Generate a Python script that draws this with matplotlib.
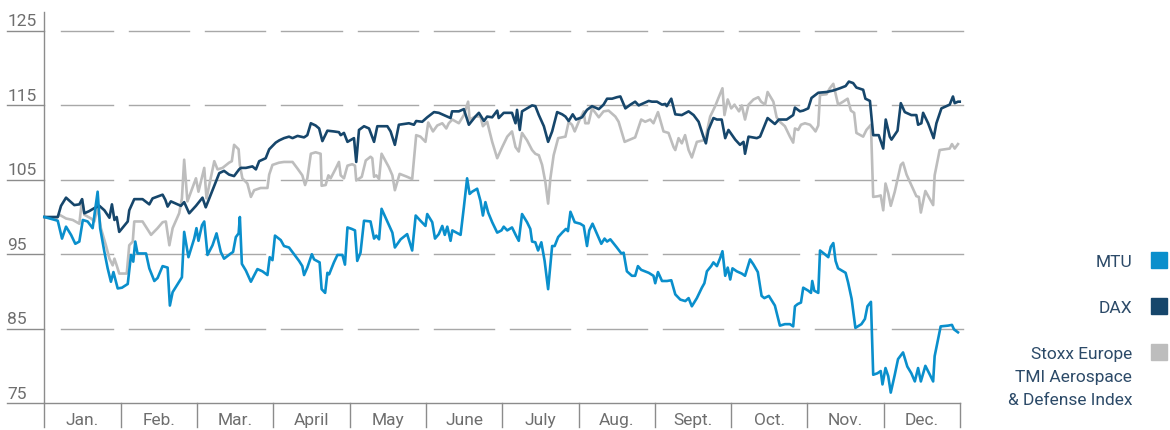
import numpy as np
import matplotlib
matplotlib.use("Agg")
import matplotlib.pyplot as plt
from matplotlib.patches import Rectangle

plt.rcParams['font.family'] = ['Roboto', 'DejaVu Sans']

# x = day of the year (0..365), y = indexed value (start = 100)
mtu_days = [0, 5.3, 7.0, 8.6, 10.6, 12.3, 13.9, 15.3, 17.2, 19.2, 21.2, 22.2, 23.9, 25.2, 26.5, 27.5, 29.2, 30.9,
            33.2, 34.5, 35.4, 36.2, 37.1, 40.5, 41.8, 43.8, 45.1, 47.1, 49.1, 50.0, 51.1, 53.7, 54.8, 55.7, 57.4,
            59.7, 60.6, 61.4, 62.8, 63.7, 65.0, 67.0, 68.6, 70.3, 71.6, 74.3, 75.2, 76.3, 77.4, 77.9, 78.7, 80.3,
            82.3, 84.9, 86.9, 88.9, 89.8, 90.9, 91.9, 94.2,
            95.5, 97.5, 99.5, 101.5, 102.8, 103.5, 104.8, 106.6, 107.5, 109.7, 110.5, 111.9, 112.8, 113.5, 115.4,
            116.8, 118.8, 119.8, 120.8, 122.5, 123.8, 124.7, 126.0, 127.4, 130.0, 131.4, 132.3, 133.4, 134.4, 136.3,
            138.7, 139.7, 142.0, 144.6, 146.6, 148.0, 149.9, 151.9, 152.6, 154.6, 155.7, 157.2, 158.6, 159.6, 160.6,
            161.9, 162.6, 165.9, 167.2, 168.5, 169.5, 170.5, 172.5, 173.8, 174.8, 175.8, 176.9, 178.5, 180.5, 182.2,
            183.1, 184.5, 186.4, 188.0,
            189.1, 190.4, 192.4, 193.7, 194.4, 195.7, 196.8, 198.1, 199.4, 200.8, 202.4, 203.4, 204.8, 206.4, 207.9,
            208.7, 209.7, 211.4, 213.6, 215.0, 216.3, 217.2, 218.5, 220.3, 222.0, 223.3, 224.3, 225.6, 228.2, 230.0,
            230.9, 232.2, 234.2, 235.5, 236.6, 237.9, 240.9, 242.8, 243.5, 244.6, 246.2, 248.2, 249.9, 251.5, 253.5,
            255.5, 256.8, 258.1, 260.1, 262.1, 263.1, 264.1, 265.8, 266.7, 268.1, 269.4, 270.3, 271.4, 272.4, 273.4,
            274.3, 276.0, 278.0, 279.3, 281.3, 282.7, 284.4,
            285.9, 287.0, 288.8, 291.2, 293.2, 295.2, 297.2, 298.5, 299.2, 300.3, 301.6, 302.5, 304.5, 305.6, 306.1,
            306.9, 308.5, 309.2, 311.1, 312.5, 313.5, 314.5, 315.4, 316.4, 319.4, 320.4, 321.8, 323.3, 325.7, 327.1,
            328.1, 329.5, 330.4, 332.1, 333.4, 334.1, 335.3, 336.4, 337.4, 339.0, 340.3, 342.3, 344.0, 345.6, 347.0,
            348.3, 349.4, 351.2, 353.0, 354.3, 354.9, 357.3, 360.2, 361.8, 362.6, 364.2]
mtu_vals = [100.0, 99.5, 97.1, 98.7, 97.6, 96.4, 96.7, 99.6, 99.4, 98.5, 103.4, 98.5, 95.3, 93.1, 91.3, 92.6, 90.4, 90.5,
            91.0, 94.9, 94.0, 96.7, 95.1, 95.1, 93.1, 91.4, 91.8, 93.4, 93.2, 88.1, 89.9, 91.3, 91.9, 98.0, 94.6,
            97.1, 98.5, 96.8, 98.9, 99.4, 94.9, 96.2, 97.8, 95.3, 94.4, 95.1, 95.3, 97.3, 97.8, 100.0, 93.7, 92.8,
            91.3, 93.0, 92.7, 92.2, 94.6, 94.2, 97.5, 96.9,
            96.1, 95.9, 95.0, 94.1, 93.4, 92.2, 93.2, 95.0, 94.3, 93.9, 90.3, 89.8, 92.5, 92.3, 93.9,
            94.9, 94.9, 93.6, 98.6, 98.4, 98.2, 94.1, 95.2, 99.5, 99.4, 97.1, 97.5, 97.0, 101.1, 99.7,
            97.9, 95.9, 97.0, 97.7, 95.5, 100.2, 99.5, 98.8, 100.4, 99.3, 97.1, 97.7, 98.8, 97.6, 98.7,
            96.8, 98.2, 97.6, 101.3, 105.2, 103.1, 103.4, 103.8, 102.2, 100.2, 102.0, 100.6, 99.3, 97.9, 98.2,
            98.7, 98.2, 98.6, 97.5,
            96.8, 100.4, 99.3, 98.4, 96.7, 96.6, 95.5, 96.6, 94.1, 90.3, 96.1, 96.1, 97.3, 97.9, 98.4,
            98.1, 100.7, 99.3, 99.1, 98.8, 96.1, 98.2, 99.1, 97.7, 96.4, 97.1, 96.7, 97.0, 95.9, 95.1,
            95.2, 92.7, 92.1, 92.1, 93.4, 92.9, 92.5, 92.1, 91.1, 92.6, 91.4, 91.4, 91.5, 89.6, 88.9,
            88.7, 89.1, 88.0, 89.1, 90.5, 91.1, 92.7, 93.4, 93.9, 93.4, 94.5, 95.4, 92.1, 93.2, 91.6,
            93.1, 92.7, 92.4, 92.1, 94.3, 93.6, 92.6,
            89.4, 89.1, 89.4, 88.1, 85.4, 85.6, 85.6, 85.3, 88.0, 88.3, 88.5, 90.5, 90.1, 89.8, 91.4,
            90.1, 89.8, 95.5, 95.0, 94.6, 96.0, 96.5, 94.1, 93.1, 92.5, 91.2, 89.0, 85.1, 85.6, 86.3,
            88.0, 88.6, 78.8, 79.0, 79.3, 77.5, 79.7, 78.6, 76.4, 78.8, 80.9, 81.8, 79.9, 79.0, 77.9,
            79.7, 77.9, 80.0, 78.8, 77.9, 81.3, 85.3, 85.4, 85.5, 84.9, 84.5]

dax_days = [0, 5.3, 6.6, 8.6, 11.9, 13.9, 15.0, 15.9, 17.9, 19.9, 21.9, 23.9, 25.9, 26.9, 27.9, 28.8, 29.8, 33.2,
            33.8, 35.8, 39.1, 41.8, 43.1, 47.1, 48.2, 49.1, 50.4, 54.4, 55.7, 57.7, 60.4, 63.0, 64.3, 67.0, 69.7,
            71.6, 73.6, 75.6, 77.6, 78.3, 80.3, 82.9, 84.3, 85.6, 88.2, 89.6, 92.2,
            93.6, 95.5, 97.5, 98.9, 100.9, 103.5, 104.8, 106.2, 108.1, 109.5, 110.8, 112.8, 115.4, 117.4, 118.1,
            119.4, 120.8, 123.4, 124.3, 125.4, 127.4, 129.4, 131.4, 132.7, 136.7, 138.0, 139.7, 141.3, 145.3, 147.3,
            148.2, 150.6, 152.6, 155.3, 157.2, 159.9, 161.9, 162.5, 165.2, 167.2, 169.2, 171.8, 173.2, 175.2, 176.5,
            178.5, 180.5, 181.1, 183.1, 186.4, 187.8, 188.4,
            189.5, 190.4, 192.4, 194.4, 195.7, 197.1, 199.1, 200.8, 202.4, 204.4, 206.4, 207.7, 209.0, 210.6, 211.9,
            214.3, 216.3, 218.3, 221.0, 222.9, 224.3, 226.3, 228.2, 229.6, 231.6, 233.6, 235.5, 236.9, 238.9, 240.9,
            242.2, 244.2, 246.2, 247.5, 248.1, 249.9, 251.5, 254.1, 256.8, 258.8, 260.8, 262.7, 263.7, 264.7, 266.7,
            268.1, 270.0, 271.4, 272.7, 275.4, 277.3, 278.7, 279.3, 280.7, 284.0, 285.3, 286.6,
            288.3, 291.2, 292.8, 295.9, 298.5, 299.2, 301.2, 302.5, 304.5, 305.8, 308.5, 311.8, 314.5, 317.1, 319.4,
            320.7, 322.4, 323.7, 326.4, 327.3, 329.1, 330.4, 332.6, 334.4, 335.4, 337.0, 337.7, 340.1, 341.4, 343.0,
            345.6, 347.6, 348.3, 349.6, 350.3, 352.3, 354.5, 355.6, 357.6, 360.9, 362.2, 362.9, 364.2, 364.9]
dax_vals = [100.0, 100.0, 101.5, 102.6, 101.6, 101.7, 102.4, 100.5, 100.8, 101.2, 101.5, 100.9, 99.9, 101.7, 99.6, 100.0, 98.0, 99.4,
            100.9, 102.4, 102.4, 101.7, 102.5, 103.0, 102.3, 101.4, 102.1, 101.5, 102.0, 100.5, 101.5, 102.6, 101.3, 103.6, 105.9,
            106.2, 105.7, 105.5, 106.4, 106.6, 106.6, 106.8, 106.4, 107.5, 107.9, 109.1, 110.0,
            110.3, 110.6, 110.8, 110.6, 110.9, 110.7, 111.0, 112.6, 112.3, 111.9, 110.2, 111.6, 111.5, 111.4, 111.0,
            111.3, 110.1, 110.6, 107.4, 111.7, 112.2, 111.9, 110.1, 112.2, 112.2, 111.5, 109.7, 112.4, 112.6, 112.4,
            112.9, 112.8, 113.4, 114.1, 114.0, 113.6, 113.3, 114.2, 114.2, 114.5, 112.4, 113.5, 114.0, 112.9, 113.5,
            113.4, 114.3, 113.3, 114.0, 114.0, 112.6, 114.4,
            111.7, 114.2, 114.6, 115.0, 114.9, 113.7, 112.2, 110.1, 111.5, 114.1, 113.8, 113.5, 112.9, 113.8, 113.1,
            113.4, 114.4, 114.9, 114.5, 115.1, 115.9, 115.9, 116.1, 116.2, 114.6, 115.1, 115.5, 115.0, 115.3, 115.6,
            115.5, 115.5, 115.1, 115.2, 114.9, 115.9, 113.8, 113.7, 114.2, 113.7, 112.8, 110.8, 109.9, 111.7, 113.3,
            113.1, 113.1, 110.6, 111.7, 110.4, 109.7, 110.1, 108.5, 110.8, 110.6, 110.8, 111.9,
            113.3, 112.5, 113.1, 113.1, 113.7, 114.7, 114.2, 114.3, 114.6, 116.0, 116.7, 116.8, 117.0, 117.3, 117.6,
            118.2, 118.0, 117.4, 117.1, 115.9, 115.6, 111.0, 111.0, 109.2, 113.1, 110.8, 110.4, 111.6, 115.3, 114.1,
            113.7, 113.7, 112.4, 112.6, 114.0, 112.6, 110.6, 112.6, 114.6, 115.1, 116.2, 115.3, 115.5, 115.5]

stoxx_days = [0, 4.6, 6.0, 8.6, 11.3, 13.9, 15.0, 15.9, 18.6, 19.9, 21.2, 22.5, 24.5, 25.9, 27.2, 27.9, 28.8, 29.8,
              32.8, 33.8, 35.2, 35.8, 39.1, 42.5, 45.1, 47.1, 48.4, 49.8, 51.1, 53.7, 54.8, 55.7, 57.0, 59.0, 60.4,
              61.4, 63.7, 64.6, 65.7, 67.7, 69.0, 71.0, 73.6, 74.7, 75.6, 77.4, 77.9, 78.9, 80.9, 82.3, 83.6, 86.2,
              88.9, 89.6, 90.9, 93.5,
              95.5, 98.9, 100.9, 102.8, 103.9, 104.8, 106.2, 108.1, 110.1, 110.5, 112.1, 113.2, 114.1, 116.1, 117.4,
              118.1, 119.4, 120.8, 122.7, 123.8, 124.3, 126.5, 128.1, 130.0, 130.7, 131.4, 132.3, 133.4, 134.4, 137.3,
              138.7, 139.7, 141.6, 144.6, 146.6, 148.2, 149.9, 151.9, 153.0, 154.9, 156.6, 158.6, 160.2, 161.2, 162.6,
              165.2, 167.2, 168.9, 169.5, 171.8, 173.8, 174.8, 176.5, 178.5, 180.5, 182.5, 184.5, 186.4, 187.8,
              189.1, 190.4, 192.4, 194.4, 195.7, 197.1, 198.4, 199.7, 200.8, 201.7, 203.0, 204.8, 207.7, 209.0, 210.3,
              211.4, 213.0, 215.0, 215.6, 216.9, 218.3, 221.0, 222.9, 224.9, 227.6, 228.9, 231.3, 235.5, 237.9, 239.5,
              241.5, 242.8, 244.6, 246.8, 248.8, 250.8, 251.5, 252.8, 254.1, 255.4, 256.8, 258.1, 260.1, 262.7, 263.7,
              265.4, 267.4, 268.7, 270.3, 271.1, 272.4, 273.8, 275.1, 276.9, 278.0, 279.3, 280.7, 282.7, 284.6, 285.7,
              287.3,
              288.3, 290.6, 291.9, 293.2, 295.2, 297.2, 298.5, 299.2, 300.5, 301.6, 303.2, 305.2, 306.5, 307.4, 308.5,
              309.2, 311.8, 313.1, 314.5, 316.4, 318.4, 320.2, 321.5, 322.8, 323.7, 326.4, 327.7, 329.5, 330.4, 332.4,
              333.4, 334.4, 335.3, 336.4, 337.4, 339.0, 341.4, 342.3, 343.7, 345.6, 347.6, 348.6, 349.4, 351.2, 354.3,
              354.9, 356.9, 360.9, 361.8, 362.9, 364.2]
stoxx_vals = [100.0, 99.8, 100.3, 99.8, 99.6, 99.1, 102.4, 100.3, 99.8, 99.4, 101.4, 98.5, 96.2, 94.4, 93.5, 94.4, 93.5, 92.4,
              92.4, 96.2, 96.7, 99.4, 99.4, 97.6, 98.5, 99.3, 99.4, 96.2, 98.5, 100.5, 102.5, 107.7, 102.1, 103.9, 105.2,
              103.4, 106.6, 102.5, 104.3, 107.5, 106.4, 106.6, 107.3, 107.5, 109.7, 109.1, 107.0, 105.2, 104.5, 102.7, 103.6, 103.9,
              103.9, 105.7, 107.0, 107.3,
              107.4, 107.4, 106.5, 105.6, 104.3, 105.2, 108.5, 108.7, 108.5, 104.2, 104.3, 105.6, 105.2, 106.5, 107.4,
              105.6, 105.2, 106.9, 107.1, 106.9, 104.9, 105.4, 107.6, 108.1, 107.9, 105.4, 105.6, 105.1, 108.5, 106.7,
              105.6, 103.6, 105.8, 105.4, 105.1, 111.0, 110.8, 110.1, 112.7, 111.5, 112.3, 112.6, 111.9, 112.6, 113.1,
              112.6, 113.7, 115.5, 113.1, 113.5, 113.5, 112.2, 112.8, 110.1, 107.9, 109.4, 110.8, 111.5, 109.4,
              108.8, 111.3, 110.3, 109.0, 108.5, 108.3, 107.0, 104.7, 101.8, 105.2, 108.3, 110.6, 110.8, 112.8, 112.4,
              111.5, 112.8, 114.2, 112.6, 112.6, 114.6, 113.4, 114.2, 114.3, 113.5, 112.8, 110.1, 110.7, 113.1, 112.8,
              113.1, 112.6, 114.1, 111.5, 111.3, 109.4, 109.0, 110.6, 109.9, 111.0, 109.0, 108.0, 110.1, 110.3, 110.8,
              113.5, 114.9, 116.0, 117.3, 113.7, 115.8, 114.6, 115.1, 114.2, 115.0, 113.1, 115.1, 115.8, 116.1, 115.5,
              115.1,
              116.8, 115.5, 113.4, 112.8, 112.2, 110.8, 110.0, 111.9, 111.7, 112.4, 112.6, 112.4, 111.9, 111.5, 112.3,
              116.4, 116.5, 117.3, 117.9, 115.1, 115.5, 115.9, 114.3, 114.0, 111.3, 110.8, 111.7, 112.4, 102.7, 102.8,
              102.9, 100.9, 104.5, 103.2, 101.5, 103.4, 107.0, 107.3, 105.7, 104.3, 102.8, 102.7, 100.6, 103.5, 101.6,
              105.6, 109.0, 109.2, 109.8, 109.2, 109.8]

month_labels = ["Jan.", "Feb.", "Mar.", "April", "May", "June",
                "July", "Aug.", "Sept.", "Oct.", "Nov.", "Dec."]
y_ticks = [75, 85, 95, 105, 115, 125]
legend_labels = ["MTU", "DAX", "Stoxx Europe\nTMI Aerospace\n& Defense Index"]

c_mtu = '#0a8fcc'
c_dax = '#16466b'
c_stoxx = '#bdbdbd'
c_axis = '#8c8c8c'
c_grid = '#a8a8a8'
c_label = '#6e6e6e'
c_legend = '#2c4a68'

fig = plt.figure(figsize=(11.7, 4.31), dpi=100)
ax = fig.add_axes([0.0380, 0.0626, 0.7825, 0.9072])
ax.set_xlim(0, 365)
ax.set_ylim(75, 127.55)
for s in ['top', 'right', 'bottom']:
    ax.spines[s].set_visible(False)
ax.spines['left'].set_color(c_axis)
ax.spines['left'].set_linewidth(1)
ax.set_xticks([])
ax.set_yticks([])

bounds = np.linspace(0, 365, 13)
gap = 3.2  # days, about 8 px

# segmented gridlines, broken at each month boundary
for v in y_ticks[1:]:
    for i in range(12):
        x0 = bounds[i] + (6.6 if i == 0 else gap)
        x1 = bounds[i + 1] + (1.2 if i == 11 else -gap)
        ax.plot([x0, x1], [v, v], color=c_grid, lw=1.0, zorder=1, clip_on=False)

# y labels with short tick lines to the left
ytr = ax.get_yaxis_transform()
for v in y_ticks:
    x_end = 1 if v == y_ticks[0] else 0
    ax.plot([-0.0404, x_end], [v, v], transform=ytr, color=c_axis, lw=1, clip_on=False, zorder=2)
    ax.annotate(str(v), xy=(-0.0404, v), xycoords=ytr, xytext=(0, 5.5), textcoords='offset pixels',
                ha='left', va='baseline', fontsize=12.5, color=c_label)

# month separators and labels under the axis
xtr = ax.get_xaxis_transform()
for b in bounds:
    ax.plot([b, b], [0, -0.0614], transform=xtr, color=c_axis, lw=1, clip_on=False)
for i, m in enumerate(month_labels):
    ax.text((bounds[i] + bounds[i + 1]) / 2, -0.0537, m, transform=xtr,
            ha='center', va='baseline', fontsize=12.5, color=c_label)

ax.plot(stoxx_days, stoxx_vals, color=c_stoxx, lw=1.9, zorder=3, clip_on=False)
ax.plot(dax_days, dax_vals, color=c_dax, lw=1.9, zorder=4, clip_on=False)
ax.plot(mtu_days, mtu_vals, color=c_mtu, lw=1.9, zorder=5, clip_on=False)

# legend on the right: square + right-aligned label, one text per line (23 px apart)
W, H = 1170, 431
leg_colors = [c_mtu, c_dax, c_stoxx]
leg_y = [261, 307, 353]
for lab, col, y in zip(legend_labels, leg_colors, leg_y):
    fig.patches.append(Rectangle((1151 / W, 1 - (y + 8) / H), 16 / W, 16 / H,
                                 transform=fig.transFigure, color=col))
    for k, line in enumerate(lab.split("\n")):
        fig.text(1132 / W, 1 - (y + 6 + 23 * k) / H, line, ha='right', va='baseline',
                 fontsize=12.5, color=c_legend)

fig.savefig("out.png", dpi=100)
